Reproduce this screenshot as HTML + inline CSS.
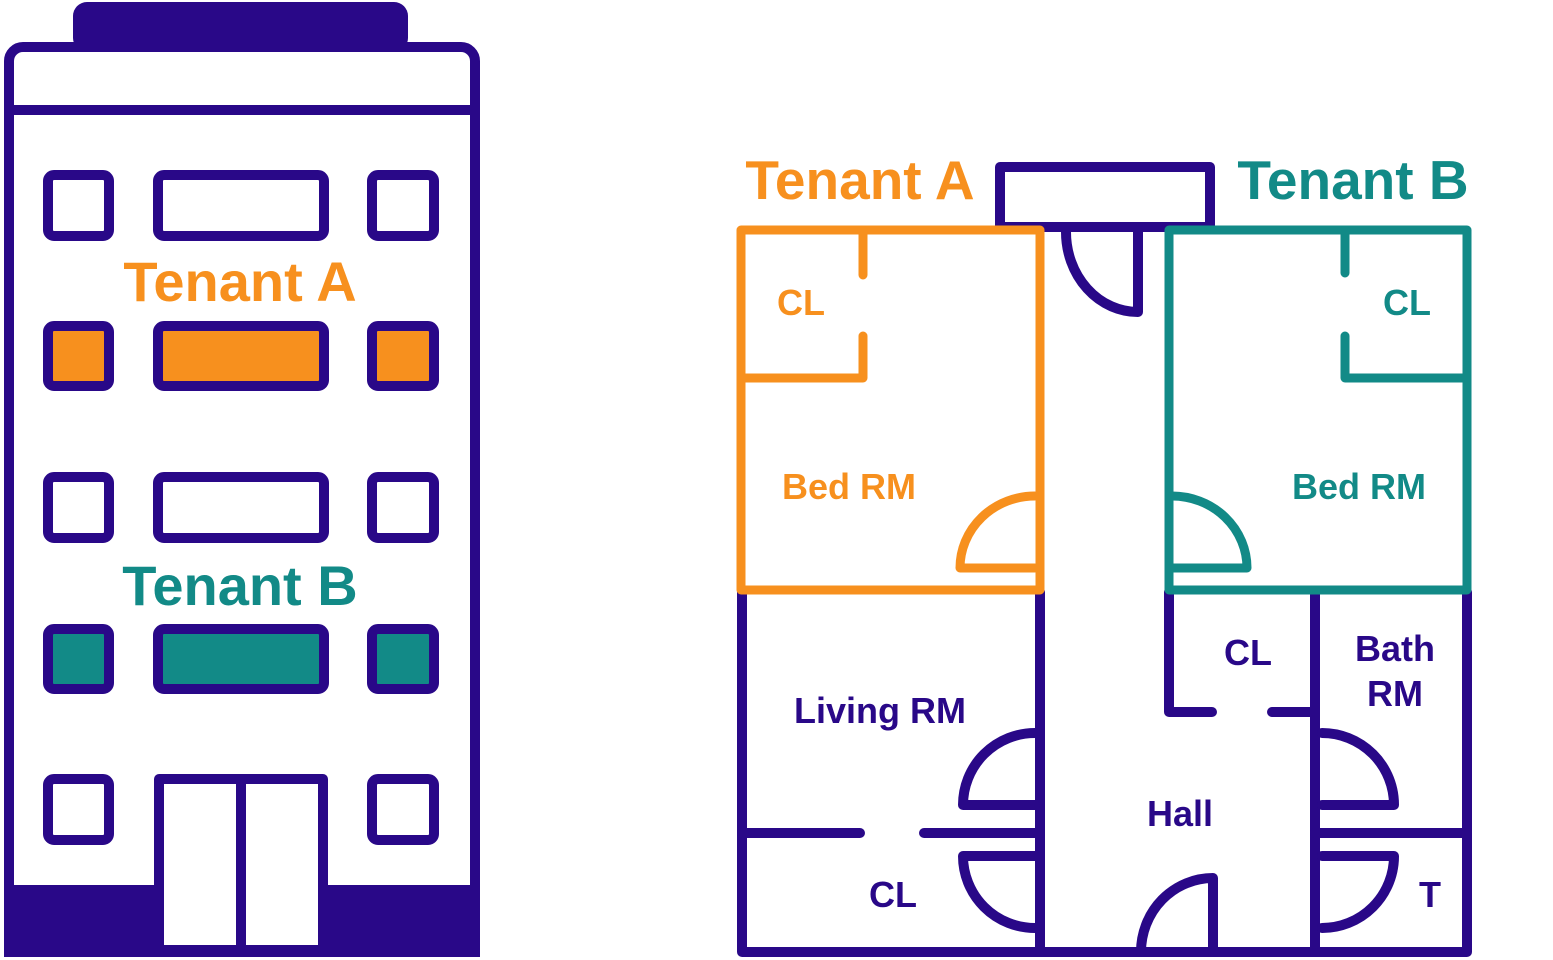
<!DOCTYPE html>
<html><head><meta charset="utf-8"><style>
html,body{margin:0;padding:0;background:#fff;width:1553px;height:960px;overflow:hidden}
text{font-family:"Liberation Sans",sans-serif;font-weight:bold}
</style></head><body>
<svg width="1553" height="960" viewBox="0 0 1553 960" xmlns="http://www.w3.org/2000/svg">
<defs><style>.p{stroke:#290888;fill:none;stroke-width:10;stroke-linecap:round;stroke-linejoin:round}
.o{stroke:#f7901e;fill:none;stroke-width:9;stroke-linecap:round;stroke-linejoin:round}
.t{stroke:#128a87;fill:none;stroke-width:9;stroke-linecap:round;stroke-linejoin:round}</style></defs>
<!-- building -->
<rect x="73" y="2" width="335" height="50" rx="14" fill="#290888"/>
<rect x="9" y="47" width="466" height="905" rx="14" class="p"/>
<line x1="8" y1="110" x2="474" y2="110" stroke="#290888" stroke-width="10"/>
<rect x="4" y="885" width="152" height="72" fill="#290888"/>
<rect x="326" y="885" width="154" height="72" fill="#290888"/>
<rect x="4" y="945" width="476" height="12" fill="#290888"/>
<g class="p">
<rect x="48" y="175" width="61" height="61" rx="6"/><rect x="158" y="175" width="166" height="61" rx="6"/><rect x="372" y="175" width="62" height="61" rx="6"/>
<rect x="48" y="326" width="61" height="60" rx="6" fill="#f7901e"/><rect x="158" y="326" width="166" height="60" rx="6" fill="#f7901e"/><rect x="372" y="326" width="62" height="60" rx="6" fill="#f7901e"/>
<rect x="48" y="477" width="61" height="61" rx="6"/><rect x="158" y="477" width="166" height="61" rx="6"/><rect x="372" y="477" width="62" height="61" rx="6"/>
<rect x="48" y="629" width="61" height="60" rx="6" fill="#128a87"/><rect x="158" y="629" width="166" height="60" rx="6" fill="#128a87"/><rect x="372" y="629" width="62" height="60" rx="6" fill="#128a87"/>
<rect x="48" y="779" width="61" height="61" rx="6"/><rect x="372" y="779" width="62" height="61" rx="6"/>
<path d="M159 950 V779 H323 V950 M241 779 V950"/>
</g>
<text x="240" y="301" font-size="56" fill="#f7901e" text-anchor="middle">Tenant A</text>
<text x="240" y="605" font-size="56" fill="#128a87" text-anchor="middle">Tenant B</text>
<!-- floor plan -->
<text x="860" y="199" font-size="55" fill="#f7901e" text-anchor="middle">Tenant A</text>
<text x="1353" y="199" font-size="55" fill="#128a87" text-anchor="middle">Tenant B</text>
<g class="p">
<path d="M1000 227 V167 H1210 V227 H1000"/>
<path d="M1138 230 V312 A72 80 0 0 1 1066 232"/>
<path d="M742 592 V952 H1467 V592"/>
<path d="M1040 592 V952 M1169 592 V712 H1212 M1272 712 H1315 M1315 592 V952"/>
<path d="M742 833 H860 M924 833 H1040"/>
<path d="M1035 733 A72 72 0 0 0 963 805 H1035"/>
<path d="M1035 856 H963 A72 72 0 0 0 1035 928"/>
<path d="M1322 733 A72 72 0 0 1 1394 805 H1322"/>
<path d="M1315 833 H1467"/>
<path d="M1322 856 H1394 A72 72 0 0 1 1322 928"/>
<path d="M1213 878 V952 M1213 878 A72 74 0 0 0 1141 952"/>
</g>
<g class="o">
<rect x="741" y="230" width="299" height="360"/>
<path d="M863 230 V275 M863 336 V378 H741"/>
<path d="M1035 496 A75 72 0 0 0 960 568 H1035"/>
</g>
<g class="t">
<rect x="1169" y="230" width="298" height="360"/>
<path d="M1345 230 V273 M1345 336 V378 H1467"/>
<path d="M1172 496 A75 72 0 0 1 1247 568 H1172"/>
</g>
<g font-size="36">
<text x="801" y="315" fill="#f7901e" text-anchor="middle">CL</text>
<text x="849" y="499" fill="#f7901e" text-anchor="middle">Bed RM</text>
<text x="1407" y="315" fill="#128a87" text-anchor="middle">CL</text>
<text x="1359" y="499" fill="#128a87" text-anchor="middle">Bed RM</text>
<text x="880" y="723" fill="#290888" text-anchor="middle">Living RM</text>
<text x="1248" y="665" fill="#290888" text-anchor="middle">CL</text>
<text x="1395" y="661" fill="#290888" text-anchor="middle">Bath</text>
<text x="1395" y="706" fill="#290888" text-anchor="middle">RM</text>
<text x="1180" y="826" fill="#290888" text-anchor="middle">Hall</text>
<text x="893" y="907" fill="#290888" text-anchor="middle">CL</text>
<text x="1430" y="907" fill="#290888" text-anchor="middle">T</text>
</g>
</svg>
</body></html>
